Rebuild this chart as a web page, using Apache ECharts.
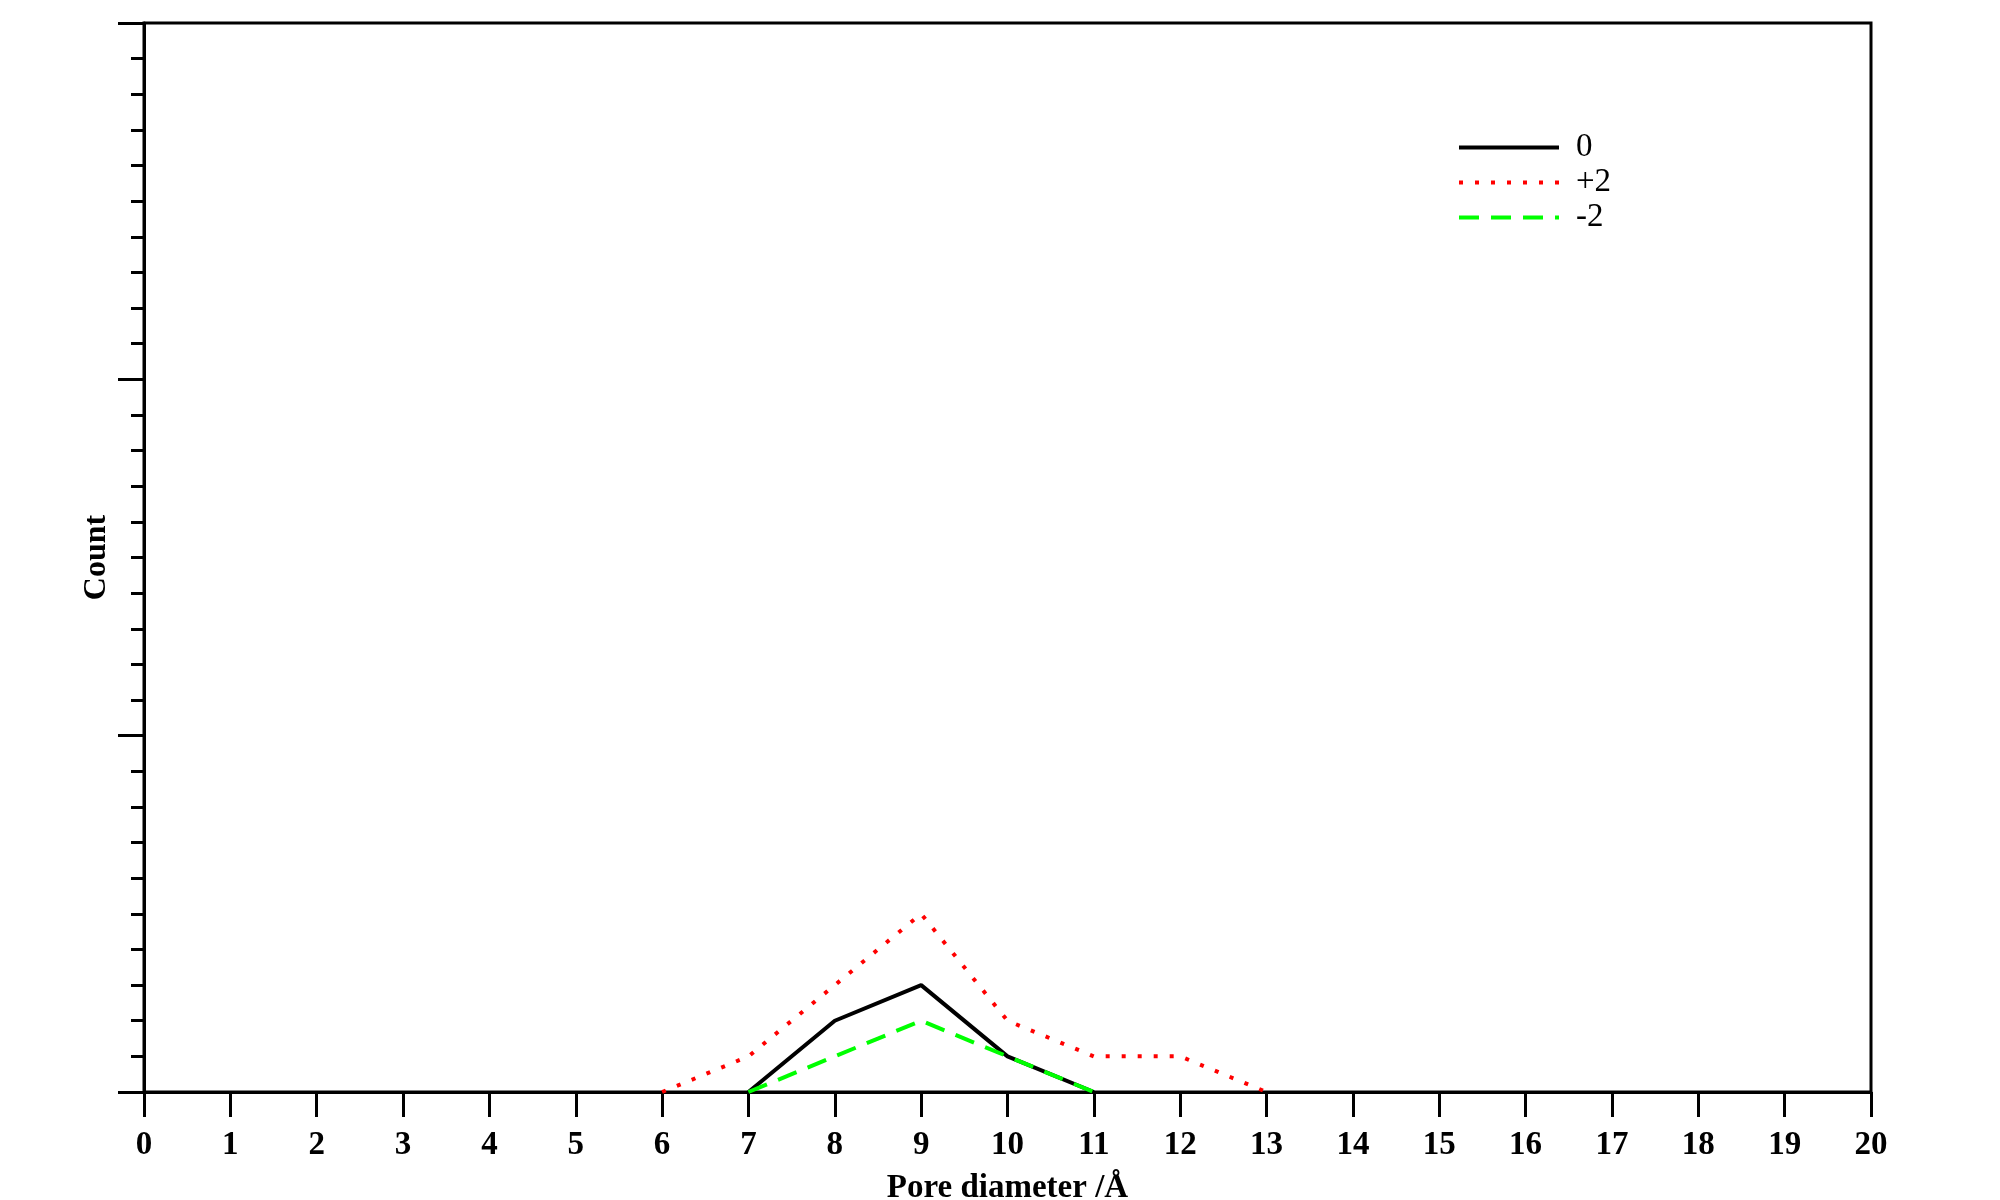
<!DOCTYPE html>
<html>
<head>
<meta charset="utf-8">
<script src="https://cdn.jsdelivr.net/npm/echarts@6/dist/echarts.min.js"></script>
<style>
  html, body { margin: 0; padding: 0; background: #fff; }
  #main { width: 2000px; height: 1200px; }
</style>
</head>
<body>
<div id="main"></div>
<script>
// pore diameter (Å) vs count, per charge state
var seriesNames = ['0', '+2', '-2'];
var x0 = [7, 8, 9, 10, 11];
var y0 = [0, 2, 3, 1, 0];
var xPlus2 = [6, 7, 8, 9, 10, 11, 12, 13];
var yPlus2 = [0, 1, 3, 5, 2, 1, 1, 0];
var xMinus2 = [7, 8, 9, 10, 11];
var yMinus2 = [0, 1, 2, 1, 0];

function pairs(xs, ys) {
  var out = [];
  for (var i = 0; i < xs.length; i++) {
    out.push([xs[i], ys[i]]);
  }
  return out;
}

var font = 'Liberation Serif';
var myChart = echarts.init(document.getElementById('main'));
var option = {
  backgroundColor: '#fff',
  animation: false,
  grid: {
    left: 144,
    right: 129,
    top: 23,
    bottom: 108,
    outerBoundsMode: 'none',
    show: true,
    borderColor: '#000',
    borderWidth: 3
  },
  legend: {
    left: 1452,
    top: 126,
    orient: 'vertical',
    itemWidth: 100,
    itemHeight: 14,
    itemGap: 2,
    itemStyle: { opacity: 0 },
    lineStyle: { width: 4 },
    textStyle: { fontFamily: font, fontSize: 33, color: '#000', padding: [0, 0, 0, 12] },
    data: seriesNames
  },
  xAxis: {
    type: 'value',
    min: 0,
    max: 20,
    interval: 1,
    name: 'Pore diameter /Å',
    nameLocation: 'middle',
    nameGap: 80,
    nameTextStyle: { fontFamily: font, fontSize: 33, fontWeight: 'bold', color: '#000' },
    axisLine: { lineStyle: { color: '#000', width: 3 } },
    axisTick: { length: 25, lineStyle: { color: '#000', width: 3 } },
    axisLabel: { fontFamily: font, fontSize: 33, fontWeight: 'bold', color: '#000', margin: 37 },
    splitLine: { show: false }
  },
  yAxis: {
    type: 'value',
    min: 0,
    max: 30,
    interval: 10,
    name: 'Count',
    nameLocation: 'middle',
    nameGap: 31,
    nameTextStyle: { fontFamily: font, fontSize: 32, fontWeight: 'bold', color: '#000' },
    axisLine: { lineStyle: { color: '#000', width: 3 } },
    axisTick: { length: 26, lineStyle: { color: '#000', width: 3 } },
    minorTick: { show: true, splitNumber: 10, length: 13, lineStyle: { color: '#000', width: 3 } },
    axisLabel: { show: false },
    splitLine: { show: false }
  },
  series: [
    {
      name: seriesNames[0],
      type: 'line',
      symbol: 'none',
      data: pairs(x0, y0),
      lineStyle: { color: '#000', width: 4, type: 'solid' },
      itemStyle: { color: '#000' }
    },
    {
      name: seriesNames[1],
      type: 'line',
      symbol: 'none',
      data: pairs(xPlus2, yPlus2),
      lineStyle: { color: '#ff0000', width: 4, type: [4, 12] },
      itemStyle: { color: '#ff0000' }
    },
    {
      name: seriesNames[2],
      type: 'line',
      symbol: 'none',
      data: pairs(xMinus2, yMinus2),
      lineStyle: { color: '#00ff00', width: 4, type: [20, 12] },
      itemStyle: { color: '#00ff00' }
    }
  ]
};
myChart.setOption(option);
</script>
</body>
</html>
